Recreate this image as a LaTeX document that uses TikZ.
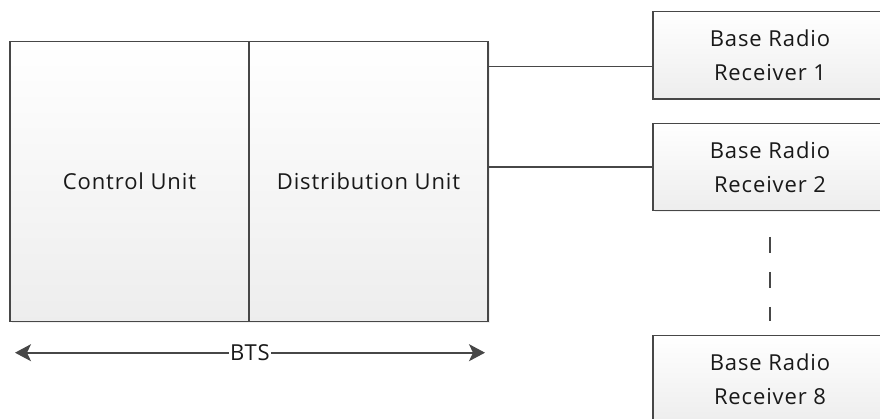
\documentclass[tikz,border=0pt]{standalone}
\usepackage{fontspec}
\setmainfont[LetterSpace=4]{Open Sans}
\usetikzlibrary{arrows.meta,shadows,calc}

\tikzset{
  unitbox/.style={draw=black!72, line width=1.3pt,
    top color=white, bottom color=black!7,
    drop shadow={opacity=0.12, shadow xshift=1.5pt, shadow yshift=-1.5pt},
    inner sep=0pt, outer sep=0pt, text=black!90,
    font=\fontsize{22}{34}\selectfont, align=center},
  link/.style={draw=black!72, line width=1.3pt},
  gapline/.style={draw=black!72, line width=1.1pt, dash pattern=on 16pt off 19pt},
  span/.style={draw=black!72, line width=1.6pt,
    {Stealth[length=16pt,width=17pt,inset=4pt]}-{Stealth[length=16pt,width=17pt,inset=4pt]}},
  spanlabel/.style={fill=white, inner sep=1pt, text=black!90,
    font=\fontsize{22}{26}\selectfont}
}

\begin{document}
\begin{tikzpicture}[x=1pt,y=-1pt]
  \useasboundingbox (0,0) rectangle (880,419);
  \clip (0,0) rectangle (880,419);

  % BTS: control and distribution units
  \node[unitbox, minimum width=239pt, minimum height=280pt, anchor=north west]
    (cu) at (10,41.7) {Control Unit};
  \node[unitbox, minimum width=239pt, minimum height=280pt, anchor=north west]
    (du) at (cu.north east) {Distribution Unit};

  % base radio receivers
  \node[unitbox, minimum width=234pt, minimum height=87.3pt, anchor=north west]
    (r1) at (653,11.7) {Base Radio\\Receiver 1};
  \node[unitbox, minimum width=234pt, minimum height=87.3pt, anchor=north west]
    (r2) at (653,123.3) {Base Radio\\Receiver 2};
  \node[unitbox, minimum width=234pt, minimum height=87.3pt, anchor=north west]
    (r8) at (653,335.7) {Base Radio\\Receiver 8};

  % links from the distribution unit
  \draw[link] ([yshift=-25pt]du.north east) coordinate (a1) -- (a1 -| r1.west);
  \draw[link] (r2.west -| du.east) -- (r2.west);

  % receivers 3 to 7 left out
  \draw[gapline] ([yshift=-26.3pt]r2.south) -- ([yshift=14.7pt]r8.north);

  % extent of the BTS
  \coordinate (bl) at ($(cu.south west)+(5,31)$);
  \coordinate (br) at ($(du.south east)+(-3,31)$);
  \draw[span] (bl) -- (br);
  \node[spanlabel] (bts) at ($(bl)!0.5!(br)$) {BTS};
\end{tikzpicture}
\end{document}
